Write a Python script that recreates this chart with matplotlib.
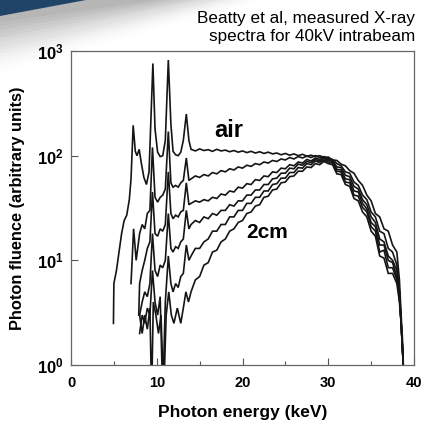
import numpy as np
import matplotlib
matplotlib.use("Agg")
import matplotlib.pyplot as plt
from matplotlib.patches import Polygon

plt.rcParams['font.family'] = ['Liberation Sans', 'DejaVu Sans']
plt.rcParams['mathtext.fontset'] = 'custom'
plt.rcParams['mathtext.rm'] = 'Liberation Sans:bold'
plt.rcParams['mathtext.bf'] = 'Liberation Sans:bold'
plt.rcParams['mathtext.it'] = 'Liberation Sans:bold'

# ---------------- data ----------------
# shared energy grid for the continuum part (keV)
e_cont = [14.0, 14.5, 15.0, 15.5, 16.0, 16.5, 17.0, 17.5, 18.0, 18.5, 19.0, 19.5, 20.0, 20.5,
          21.0, 21.5, 22.0, 22.5, 23.0, 23.5, 24.0, 24.5, 25.0, 25.5, 26.0, 26.5, 27.0, 27.5,
          28.0, 28.5, 29.0, 29.5, 30.0, 30.5, 31.0, 31.5, 32.0, 32.5, 33.0, 33.5, 34.0, 34.5,
          35.0, 35.5, 36.0, 36.5, 37.0, 37.5, 38.0, 38.3, 38.5, 38.7, 38.85]

# air
e_air_low = [4.95, 5.0, 5.3, 5.6, 5.9, 6.2, 6.5, 6.8, 7.0, 7.25, 7.5, 7.7, 7.95, 8.2, 8.5, 8.8,
             9.1, 9.3, 9.55, 9.8, 10.1, 10.4, 10.7, 11.0, 11.35, 11.65, 11.9, 12.2, 12.5, 12.8,
             13.1, 13.45, 13.75]
f_air_low = [2.5, 6, 8, 12, 18, 24, 27, 38, 60, 195, 110, 100, 115, 85, 62, 53,
             70, 200, 760, 180, 108, 98, 100, 140, 820, 200, 110, 102, 100, 108,
             140, 250, 140]
f_air_cont = [115, 111, 116, 112, 114, 110, 115, 111, 113, 109, 112, 108, 111, 107, 110, 106,
              109, 105, 108, 104, 106, 102, 105, 101, 104, 100, 103, 99, 101, 98, 100, 96, 97,
              91, 90, 83, 80, 72, 68, 58, 52, 42, 37, 28, 26, 20, 19, 14, 12,
              6.5, 3, 1.5, 0.5]

# depth 1
e_d1_low = [7.0, 7.3, 7.6, 8.0, 8.3, 8.6, 8.9, 9.2, 9.5, 9.8, 10.1, 10.4, 10.7, 11.0, 11.35,
            11.65, 11.9, 12.2, 12.5, 12.8, 13.1, 13.45, 13.75]
f_d1_low = [6, 20, 10, 18, 22, 20, 28, 30, 120, 40, 36, 40, 42, 48, 170,
            55, 50, 52, 50, 55, 58, 95, 58]
f_d1_cont = [60, 64, 62, 66, 64, 69, 67, 72, 70, 75, 73, 78, 76, 81, 79, 84, 82, 87, 85, 90,
             88, 93, 91, 96, 93, 98, 95, 99, 96, 100, 96, 98, 94,
             92, 84, 80, 70, 68, 56, 52, 42, 38, 29, 26, 19, 18, 13, 12, 9,
             5, 2.5, 1.2, 0.5]

# depth 2
e_d2_low = [7.9, 8.0, 8.3, 8.6, 8.9, 9.2, 9.5, 9.8, 10.1, 10.4, 10.7, 11.0, 11.35, 11.65,
            11.9, 12.2, 12.5, 12.8, 13.1, 13.45, 13.75]
f_d2_low = [3, 6, 8, 10, 13, 15, 45, 18, 17, 20, 19, 22, 70, 28,
            25, 27, 26, 29, 30, 55, 34]
f_d2_cont = [35, 37, 36, 38, 37, 40, 39, 43, 42, 46, 45, 50, 49, 54, 53, 59, 58, 64, 63, 70,
             69, 76, 75, 82, 80, 87, 85, 92, 89, 95, 92, 97, 92,
             90, 78, 77, 65, 63, 51, 48, 38, 34, 26, 23, 16, 15, 11, 10, 8,
             5, 2.5, 1.2, 0.5]

# depth 3
e_d3_low = [8.0, 8.3, 8.6, 8.9, 9.2, 9.5, 9.8, 10.1, 10.4, 10.7, 11.0, 11.35, 11.65, 11.9,
            12.2, 12.5, 12.8, 13.1, 13.45, 13.75]
f_d3_low = [3, 4, 5, 4.5, 6, 18, 8, 7, 9, 8.5, 10, 28, 13, 12,
            13.5, 13, 15, 16, 30, 20]
f_d3_cont = [22, 24, 23, 26, 25, 28, 27, 30, 30, 34, 33, 37, 37, 42, 42, 47, 47, 53, 53, 60,
             61, 68, 68, 76, 75, 83, 81, 88, 86, 92, 89, 94, 90,
             88, 74, 73, 60, 59, 46, 45, 35, 31, 23, 21, 14, 14, 10, 9.5, 7,
             4.5, 2.5, 1.2, 0.5]

# depth 4
e_d4_low = [8.0, 8.3, 8.6, 8.9, 9.2, 9.5, 9.8, 10.1, 10.4, 10.7, 11.0, 11.35, 11.65, 11.9,
            12.2, 12.5, 12.8, 13.1, 13.45, 13.75]
f_d4_low = [2, 3, 2.5, 3.5, 3, 8, 4, 3, 4.5, 0.5, 4, 11, 6, 5,
            6, 5.5, 7, 7.5, 14, 10]
f_d4_cont = [11, 13, 13, 15, 16, 19, 19, 22, 22, 26, 26, 30, 30, 35, 35, 40, 40, 46, 46, 53,
             54, 61, 61, 69, 69, 77, 76, 84, 82, 89, 86, 91, 87,
             85, 71, 70, 56, 55, 42, 41, 32, 29, 21, 19, 12, 12.5, 8.5, 8.5, 6.5,
             4.5, 2.5, 1.2, 0.5]

# 2 cm
e_2cm_low = [8.0, 8.3, 8.6, 8.9, 9.2, 9.4, 9.6, 9.9, 10.2, 10.5, 10.8, 11.1, 11.4, 11.7,
             12.0, 12.4, 12.8, 13.1, 13.4, 13.7]
f_2cm_low = [3, 2, 3, 2.2, 3.5, 0.5, 4, 3, 2, 3, 0.5, 3, 5, 3,
             2.5, 3.5, 2.5, 3.5, 5, 4]
f_2cm_cont = [5, 6.5, 7, 9, 9.5, 12, 12.5, 15, 16, 19, 20, 23, 24, 28, 29, 33, 34, 40, 41, 47,
              48, 55, 56, 63, 64, 71, 71, 78, 77, 84, 82, 88, 84,
              82, 67, 66, 53, 51, 39, 37, 29, 26, 19, 17, 11, 10.5, 7.5, 7.5, 6,
              4, 2.5, 1.2, 0.5]

x_ticks = [0, 10, 20, 30, 40]
y_ticks = [1, 10, 100, 1000]
y_tick_labels = [r'$\mathbf{10^{0}}$', r'$\mathbf{10^{1}}$', r'$\mathbf{10^{2}}$', r'$\mathbf{10^{3}}$']

# ---------------- figure ----------------
fig = plt.figure(figsize=(4.30, 4.25), dpi=100)
ax = fig.add_axes([71/430, 1-365/425, (414-71)/430, (365-51)/425])

curves = [(e_air_low, f_air_low, f_air_cont),
          (e_d1_low, f_d1_low, f_d1_cont),
          (e_d2_low, f_d2_low, f_d2_cont),
          (e_d3_low, f_d3_low, f_d3_cont),
          (e_d4_low, f_d4_low, f_d4_cont),
          (e_2cm_low, f_2cm_low, f_2cm_cont)]
for el, fl, fc in curves:
    ax.plot(list(el) + e_cont, list(fl) + list(fc), color='#151515', lw=1.2,
            solid_joinstyle='miter')

ax.set_yscale('log')
ax.set_xlim(0, 40)
ax.set_ylim(1, 1000)
ax.set_xticks(x_ticks)
ax.set_xticklabels([str(t) for t in x_ticks], fontweight='bold', fontsize=10.5)
ax.set_xticks([5, 15, 25, 35], minor=True)
ax.set_yticks(y_ticks)
ax.set_yticklabels(y_tick_labels, fontsize=12)
ax.yaxis.set_minor_locator(matplotlib.ticker.NullLocator())
ax.tick_params(axis='both', which='major', direction='in', length=5, width=0.8,
               color='#555555')
ax.tick_params(axis='x', which='major', pad=8)
ax.tick_params(axis='x', which='minor', direction='in', length=3, width=0.8, color='#555555')
ax.tick_params(axis='y', which='major', pad=5)
for s in ax.spines.values():
    s.set_color('#666666')
    s.set_linewidth(0.9)

fig.text(243/430, 1-412/425, 'Photon energy (keV)', fontweight='bold', fontsize=12.5,
         ha='center', va='center')
fig.text(17.5/430, 1-208/425, 'Photon fluence (arbitrary units)', fontweight='bold',
         fontsize=11.8, ha='center', va='center', rotation=90)

ax.text(16.74, 150.6, 'air', fontweight='bold', fontsize=17, ha='left', va='baseline')
ax.text(20.47, 16.3, '2cm', fontweight='bold', fontsize=15, ha='left', va='baseline')

fig.text(415/430, 1-18/425, 'Beatty et al, measured X-ray', ha='right', va='center', fontsize=12.3)
fig.text(415/430, 1-37/425, 'spectra for 40kV intrabeam', ha='right', va='center', fontsize=12.3)

# decorative corner swoosh
sh = fig.add_axes([0, 0, 1, 1], zorder=-1)
sh.set_xlim(0, 430); sh.set_ylim(425, 0); sh.axis('off')
for i in range(14):
    a = 0.11 * (1 - i / 14)
    sh.add_patch(Polygon([(0, 14), (85, -2), (170 + 8*i, -2), (0, 22 + 4*i)],
                         closed=True, facecolor='#8a8a8a', edgecolor='none', alpha=a))
sh.add_patch(Polygon([(0, 0), (86, 0), (0, 16)], closed=True, facecolor='#1f4468', edgecolor='none'))

fig.savefig('out.png', dpi=100)
